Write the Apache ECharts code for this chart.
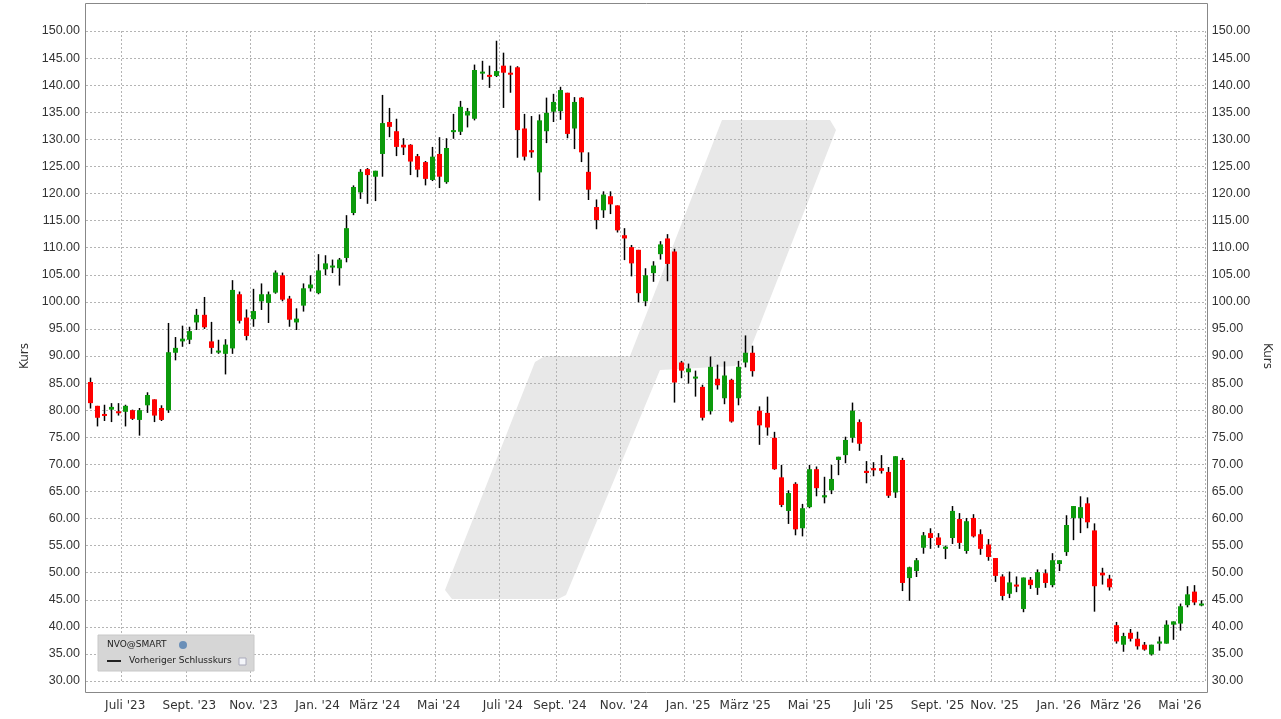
<!DOCTYPE html>
<html lang="de" style="height: 100%">
<head>
<meta charset="utf-8">
<title>NVO@SMART</title>
</head>
<body style="height: 100%; margin: 0; background: #fff">
<div id="container" style="width: 1281px; height: 719px"></div>
<script type="text/javascript" src="https://cdn.jsdelivr.net/npm/echarts/dist/echarts.min.js"></script>
<script type="text/javascript">
// weekly candles, first week starts Monday 2023-05-22
var startDate = Date.UTC(2023, 4, 22);
var monthNames = ['Jan.', 'Feb.', 'März', 'Apr.', 'Mai', 'Juni', 'Juli', 'Aug.', 'Sept.', 'Okt.', 'Nov.', 'Dez.'];

var opens = [85.2,80.8,79.3,80.1,79.8,79.7,80,78.2,80.9,82,80.4,80,90.6,92.7,93,96.2,97.6,92.7,90.7,90.4,
  91.4,101.4,97.1,96.8,100.1,99.8,101.7,104.9,100.6,96.2,99.3,102.5,101.6,106,106.4,106.2,108.1,116.4,120.2,124.5,
  123.1,127.3,133.2,131.5,129,129,126.9,125.8,122.5,127.3,122.1,131.5,131.4,134.4,133.8,142.2,141.9,141.7,143.6,142.3,
  143.3,132,128,123.9,131.5,135.1,135.2,138.6,132,137.7,124,117.5,116.9,119.5,117.8,112.3,110.1,109.6,100.1,105.3,
  108.8,111.7,109.3,88.8,87,85.9,84.3,79.8,85.8,82.2,85.6,82.2,88.8,90.6,79.9,79.5,74.9,67.6,61.4,66.4,
  58.2,62.1,69.1,63.9,65.2,70.8,71.7,74.9,77.8,68.8,69.3,69.3,68.6,64.8,70.8,49,50.3,54.6,57.3,56.5,
  54.4,56.4,59.9,54,60.1,57.1,55.2,52.7,49.3,46.1,47.8,43.3,48.7,47.2,49.9,47.7,51.6,53.8,60.1,60.1,
  62.8,57.8,50,48.9,40.3,36.7,38.9,37.8,36.7,34.9,36.9,36.9,40.4,40.6,44,46.5,44];
var highs = [86,80.8,81,81.3,81.3,81,80.1,80.4,83.3,82,80.9,96.1,93.5,95.6,95.4,98.7,100.9,96.3,93,93.1,
  104,101.9,98.6,102.4,103.4,101.9,105.8,105.4,101.1,98.8,103.4,104.9,108.8,108.6,107.8,108.1,116,121.5,124.5,124.7,
  124.2,138.2,135.8,133.8,130.2,129.1,127.3,126,128.6,130.4,130.2,134.7,137.1,135.8,143.8,144.5,143.6,148.2,146,143.6,
  143.5,134.7,134.3,134.6,137.7,138.4,139.7,138.6,137.8,137.8,127.6,118.9,120.4,120.4,117.8,113.6,110.5,109.6,106.2,107.5,
  111.2,112.5,109.8,89.1,88.6,87.3,84.7,89.9,88.4,89,85.8,89.1,93.8,91.9,80.7,82.5,76,69.9,65.2,66.7,
  62.7,69.9,69.6,67.7,69.9,71.4,75.1,81.4,78.3,70.6,70.4,71.7,69.5,71.5,71.2,51.1,52.7,57.5,58.2,57.3,
  55,62.3,61,60.1,60.8,58,56.2,52.7,49.7,50.2,49.3,49.1,49.2,50.6,50.6,53.6,52.3,60.6,62.3,64.1,
  63.9,59.1,50.9,49.6,40.9,38.9,39.6,39.1,37.2,36.7,38.2,41.2,41,44.3,47.5,47.7,44.9];
var lows = [80.3,77,78,77.8,79,77,78.2,75.3,79.5,77.8,78,79.5,89.2,91.7,92.2,94.8,95,90.4,90.4,86.6,
  90.4,96,92.9,95.4,98.5,96.1,101.5,100.1,95.4,94.8,98.2,101.9,101.4,104.9,105.3,103,107.3,116,119,118.1,
  118.6,123.1,130.4,126.9,127.1,123.4,123,121.5,122.3,121,121.8,130.1,130.8,132.2,133.5,141,139.5,141.5,135.8,138.6,
  126.6,126.1,126.6,118.7,129.3,133.2,133.6,130.2,128.2,125.8,118.8,113.4,115.5,116.2,112.8,107.7,104.7,99.9,99.2,103.7,
  107.8,103.8,81.4,85.9,84.9,82.5,78.1,79.2,83.8,81.1,77.7,80.9,87.9,86.2,73.6,75.3,69,62.1,59,56.9,
  56.7,61.9,64.1,62.8,64.5,68,70.2,74,72.5,66.5,67.8,68.3,63.8,63.8,46.6,44.8,49.2,53.5,54.4,54.6,
  52.5,55.3,54.4,53.5,56.5,53.3,52.2,48.3,44.9,45.3,46.4,42.7,47,45.9,47.2,47.3,50.3,53.1,56,57.3,
  58.2,42.8,47.8,46.7,36.9,35.4,37.3,35.8,35.6,34.7,35.6,36.9,37.6,39.3,43.6,44,43.8];
var closes = [81.3,78.6,79,80.6,79.5,80.8,78.4,80,82.8,79,78.2,90.7,91.5,93.2,94.6,97.6,95.3,91.5,91,92.1,
  102.2,96.5,93.7,98.3,101.4,101.4,105.4,100.4,96.7,96.9,102.5,103.2,105.8,107.1,106.7,107.8,113.6,121.2,124,123.4,
  124.2,133,132.3,128.6,128.5,125.9,124.4,122.7,126.8,123.1,128.4,131.7,136,135.2,142.8,142.5,141.6,142.6,142.3,142,
  131.7,126.8,127.6,133.5,134.9,136.9,139.1,131,136.9,127.6,120.7,115.1,119.8,118,113.2,111.7,107.1,101.6,104.9,106.7,
  110.6,107,85.1,87.3,87.7,86.2,78.6,88,84.6,86.4,77.9,88,90.6,87.2,77.2,76.8,69.1,62.5,64.7,58,
  61.9,69.1,65.6,64.3,67.3,71.4,74.5,79.9,73.8,68.4,68.9,68.8,64.2,71.5,48.1,51,52.3,56.9,56.4,55.1,
  54.8,61.4,55.5,59.5,56.7,54.4,52.9,49.4,45.7,48.2,47.5,49.1,47.7,50.1,48.1,52.3,52.3,58.8,62.3,62.1,
  59.3,47.5,49.5,47.3,37.3,38.3,37.8,36.4,35.8,36.7,37.3,40.4,41,43.8,46,44.5,44.3];

var weeks = [];
var labelIdx = {};
var prevMonth = -1;
for (var i = 0; i < opens.length; i++) {
    var d = new Date(startDate + i * 7 * 86400000);
    var sun = new Date(d.getTime() + 6 * 86400000);
    weeks.push(d.toISOString().slice(0, 10));
    var m = sun.getUTCMonth();
    if (prevMonth !== -1 && m !== prevMonth && m % 2 === 0) {
        labelIdx[i] = monthNames[m] + " '" + String(sun.getUTCFullYear()).slice(2);
    }
    prevMonth = m;
}
var isLabel = function (idx) { return labelIdx[idx] !== undefined; };

var candleData = opens.map(function (o, i) {
    return [i, o, closes[i], lows[i], highs[i]];
});

var dom = document.getElementById('container');
var myChart = echarts.init(dom, null, { renderer: 'canvas' });
var font = 'DejaVu Sans';
var gridLine = { show: true, lineStyle: { color: '#b4b4b4', type: [2, 2], width: 1 } };

var option = {
    animation: false,
    backgroundColor: '#fff',
    grid: { left: 86, right: 71, top: 31, height: 650 },
    xAxis: {
        type: 'category',
        data: weeks,
        boundaryGap: true,
        axisLine: { show: false },
        axisTick: { show: false },
        axisLabel: {
            interval: function (idx) { return isLabel(idx); },
            formatter: function (v, idx) { return labelIdx[idx] || ''; },
            margin: 19, color: '#333', fontFamily: font, fontSize: 12
        },
        splitLine: Object.assign({ interval: function (idx) { return isLabel(idx); } }, gridLine)
    },
    yAxis: [
        {
            type: 'value', min: 30, max: 150, interval: 5, position: 'left',
            name: 'Kurs', nameLocation: 'middle', nameGap: 48, nameRotate: 90,
            nameTextStyle: { fontFamily: font, fontSize: 12, color: '#333' },
            axisLine: { show: false }, axisTick: { show: false },
            axisLabel: { formatter: function (v) { return v.toFixed(2); }, fontFamily: 'Liberation Sans', fontSize: 12.5, color: '#333', margin: 6 },
            splitLine: gridLine
        },
        {
            type: 'value', min: 30, max: 150, interval: 5, position: 'right',
            name: 'Kurs', nameLocation: 'middle', nameGap: 52, nameRotate: -90,
            nameTextStyle: { fontFamily: font, fontSize: 12, color: '#333' },
            axisLine: { show: false }, axisTick: { show: false },
            axisLabel: { formatter: function (v) { return v.toFixed(2); }, fontFamily: 'Liberation Sans', fontSize: 12.5, color: '#333', margin: 7 },
            splitLine: { show: false }
        }
    ],
    graphic: [
        {
            type: 'polygon', z: -10, silent: true,
            shape: { points: [[722, 120], [830, 120], [836, 130], [748, 355], [735, 366], [660, 370],
                [566, 595], [558, 599], [452, 599], [445, 590], [535, 362], [545, 356], [630, 356]] },
            style: { fill: '#e8e8e8' }
        },
        {
            type: 'rect', z: 100, silent: true,
            shape: { x: 85.5, y: 3.5, width: 1122, height: 689 },
            style: { fill: null, stroke: '#888', lineWidth: 1 }
        },
        {
            type: 'rect', z: 100, shape: { x: 98, y: 635, width: 156, height: 36 },
            style: { fill: '#d6d6d6', stroke: '#c8c8c8' }
        },
        { type: 'text', z: 101, left: 107, top: 640, style: { text: 'NVO@SMART', font: '9px DejaVu Sans', fill: '#222' } },
        { type: 'circle', z: 101, shape: { cx: 183, cy: 645, r: 4 }, style: { fill: '#6a8fb8' } },
        { type: 'rect', z: 101, shape: { x: 107, y: 660, width: 14, height: 2 }, style: { fill: '#222' } },
        { type: 'text', z: 101, left: 129, top: 656, style: { text: 'Vorheriger Schlusskurs', font: '9px DejaVu Sans', fill: '#222' } },
        { type: 'rect', z: 101, shape: { x: 239, y: 658, width: 7, height: 7 }, style: { fill: '#f4f6fa', stroke: '#aab' } }
    ],
    series: [
        {
            type: 'custom',
            data: candleData,
            encode: { x: 0, y: [1, 2, 3, 4] },
            clip: false,
            renderItem: function (params, api) {
                var idx = api.value(0);
                var o = api.coord([idx, api.value(1)]);
                var c = api.coord([idx, api.value(2)]);
                var l = api.coord([idx, api.value(3)]);
                var h = api.coord([idx, api.value(4)]);
                var x = Math.round(o[0]) + 0.5;
                var w = 5;
                var up = api.value(2) >= api.value(1);
                var top = Math.min(o[1], c[1]);
                var bh = Math.max(Math.abs(o[1] - c[1]), 2);
                return {
                    type: 'group',
                    children: [
                        { type: 'line', shape: { x1: x, y1: h[1], x2: x, y2: l[1] }, style: { stroke: '#000', lineWidth: 1.5 } },
                        { type: 'rect', shape: { x: x - w / 2, y: top, width: w, height: bh }, style: { fill: up ? '#0c9a0c' : '#ff0000' } }
                    ]
                };
            }
        }
    ]
};

myChart.setOption(option);
window.addEventListener('resize', myChart.resize);
</script>
</body>
</html>
